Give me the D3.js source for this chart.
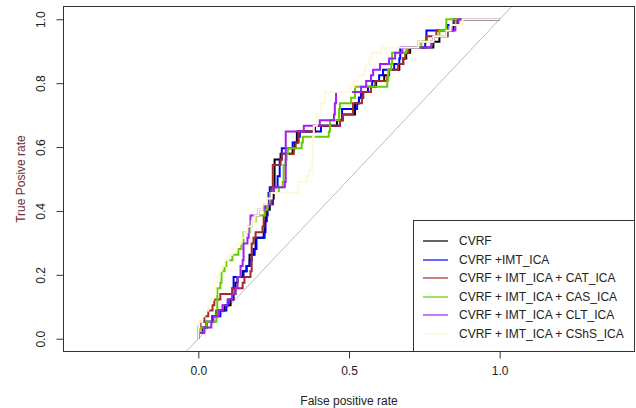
<!DOCTYPE html>
<html>
<head>
<meta charset="utf-8">
<script src="https://cdn.jsdelivr.net/npm/d3@7"></script>
<style>
  html, body { margin: 0; padding: 0; background: #fff; }
  svg { display: block; font-family: "Liberation Sans", Arial, sans-serif; }
</style>
</head>
<body>
<svg id="chart" width="636" height="408"></svg>
<script>
// ROC curves: [false positive rate, true positive rate] at each rise of the staircase
const rocCVRF = [[0,0],[0.000,0.018],[0.013,0.035],[0.027,0.053],[0.047,0.070],[0.060,0.088],[0.087,0.105],[0.107,0.123],[0.117,0.140],[0.123,0.175],[0.130,0.193],[0.147,0.211],[0.160,0.228],[0.170,0.263],[0.183,0.281],[0.190,0.316],[0.217,0.333],[0.220,0.368],[0.227,0.404],[0.237,0.421],[0.247,0.439],[0.250,0.474],[0.253,0.561],[0.273,0.579],[0.313,0.596],[0.320,0.614],[0.327,0.649],[0.387,0.667],[0.460,0.684],[0.480,0.702],[0.520,0.737],[0.533,0.754],[0.547,0.772],[0.573,0.789],[0.590,0.807],[0.617,0.825],[0.633,0.842],[0.667,0.860],[0.680,0.877],[0.690,0.895],[0.703,0.912],[0.780,0.930],[0.800,0.947],[0.827,0.965],[0.847,0.982],[0.860,1.000],[1,1]];

const rocIMT = [[0,0],[0.000,0.035],[0.027,0.053],[0.047,0.070],[0.073,0.088],[0.093,0.105],[0.100,0.123],[0.113,0.158],[0.117,0.193],[0.150,0.211],[0.160,0.228],[0.170,0.246],[0.177,0.263],[0.187,0.281],[0.193,0.316],[0.220,0.333],[0.223,0.386],[0.230,0.421],[0.233,0.456],[0.237,0.474],[0.263,0.509],[0.270,0.561],[0.277,0.596],[0.313,0.614],[0.330,0.632],[0.337,0.649],[0.407,0.667],[0.470,0.684],[0.477,0.719],[0.527,0.737],[0.533,0.754],[0.540,0.772],[0.563,0.789],[0.577,0.807],[0.600,0.825],[0.613,0.842],[0.650,0.860],[0.667,0.877],[0.670,0.912],[0.753,0.930],[0.757,0.965],[0.827,0.982],[0.847,1.000],[1,1]];

const rocCAT = [[0,0],[0.000,0.035],[0.007,0.053],[0.020,0.070],[0.033,0.088],[0.047,0.105],[0.053,0.123],[0.073,0.140],[0.113,0.158],[0.147,0.175],[0.153,0.193],[0.173,0.211],[0.177,0.298],[0.183,0.316],[0.190,0.333],[0.213,0.351],[0.217,0.386],[0.223,0.421],[0.237,0.439],[0.243,0.474],[0.247,0.544],[0.273,0.561],[0.277,0.579],[0.317,0.596],[0.323,0.614],[0.333,0.649],[0.383,0.667],[0.470,0.684],[0.480,0.702],[0.513,0.737],[0.543,0.754],[0.547,0.772],[0.573,0.789],[0.587,0.807],[0.627,0.825],[0.633,0.842],[0.663,0.860],[0.680,0.877],[0.687,0.895],[0.697,0.912],[0.730,0.930],[0.757,0.947],[0.790,0.965],[0.837,0.982],[0.850,1.000],[1,1]];

const rocCAS = [[0,0],[0.000,0.018],[0.010,0.035],[0.027,0.053],[0.060,0.070],[0.063,0.158],[0.073,0.175],[0.077,0.211],[0.087,0.228],[0.093,0.246],[0.113,0.263],[0.133,0.281],[0.143,0.298],[0.150,0.333],[0.170,0.351],[0.177,0.368],[0.190,0.386],[0.220,0.404],[0.230,0.421],[0.237,0.456],[0.267,0.474],[0.280,0.491],[0.283,0.544],[0.290,0.561],[0.293,0.579],[0.297,0.596],[0.343,0.614],[0.347,0.632],[0.433,0.649],[0.437,0.684],[0.467,0.719],[0.470,0.737],[0.507,0.754],[0.520,0.789],[0.627,0.807],[0.630,0.842],[0.640,0.860],[0.643,0.895],[0.690,0.912],[0.740,0.930],[0.780,0.947],[0.800,0.965],[0.823,1.000],[1,1]];

const rocCLT = [[0,0],[0.000,0.018],[0.020,0.035],[0.043,0.053],[0.050,0.070],[0.067,0.088],[0.080,0.105],[0.097,0.123],[0.113,0.140],[0.123,0.158],[0.130,0.193],[0.140,0.228],[0.147,0.246],[0.150,0.298],[0.163,0.316],[0.167,0.351],[0.173,0.386],[0.200,0.404],[0.217,0.421],[0.243,0.456],[0.250,0.474],[0.287,0.491],[0.290,0.649],[0.350,0.667],[0.403,0.684],[0.450,0.702],[0.453,0.737],[0.457,0.772],[0.540,0.789],[0.557,0.807],[0.573,0.825],[0.580,0.842],[0.603,0.860],[0.633,0.877],[0.653,0.895],[0.677,0.912],[0.773,0.930],[0.780,0.947],[0.823,0.965],[0.853,0.982],[0.863,1.000],[1,1]];

const rocCShS = [[0,0],[0.000,0.035],[0.003,0.053],[0.013,0.070],[0.020,0.088],[0.033,0.105],[0.040,0.123],[0.050,0.140],[0.057,0.175],[0.063,0.193],[0.070,0.211],[0.077,0.228],[0.087,0.246],[0.100,0.263],[0.113,0.281],[0.127,0.298],[0.143,0.316],[0.153,0.333],[0.163,0.351],[0.177,0.368],[0.187,0.386],[0.200,0.404],[0.213,0.421],[0.227,0.439],[0.243,0.456],[0.330,0.474],[0.333,0.491],[0.360,0.509],[0.367,0.526],[0.377,0.544],[0.380,0.632],[0.383,0.667],[0.393,0.702],[0.407,0.737],[0.420,0.772],[0.507,0.789],[0.517,0.807],[0.530,0.825],[0.550,0.842],[0.557,0.860],[0.567,0.877],[0.577,0.895],[0.607,0.912],[0.730,0.930],[0.780,0.947],[0.823,0.965],[0.837,0.982],[0.877,1.000],[1,1]];

const seriesNames = ["CVRF", "CVRF +IMT_ICA", "CVRF + IMT_ICA + CAT_ICA", "CVRF + IMT_ICA + CAS_ICA", "CVRF + IMT_ICA + CLT_ICA", "CVRF + IMT_ICA + CShS_ICA"];
const seriesData = [rocCVRF, rocIMT, rocCAT, rocCAS, rocCLT, rocCShS];
const seriesColors = ["#000000", "#0000ff", "#a52a2a", "#66cd00", "#a020f0", "#fff8dc"];

const xTicks = [0, 0.5, 1];
const yTicks = [0, 0.2, 0.4, 0.6, 0.8, 1];

const svg = d3.select("#chart");
const plot = { left: 63.5, right: 634.5, top: 6.5, bottom: 351.5 };

const x = d3.scaleLinear().domain([-0.4475, 1.4475]).range([plot.left, plot.right]);
const y = d3.scaleLinear().domain([-0.04, 1.04]).range([plot.bottom, plot.top]);

svg.append("defs").append("clipPath").attr("id", "plotClip")
  .append("rect")
  .attr("x", plot.left).attr("y", plot.top)
  .attr("width", plot.right - plot.left).attr("height", plot.bottom - plot.top);

const inner = svg.append("g").attr("clip-path", "url(#plotClip)");

// chance diagonal
inner.append("line")
  .attr("x1", x(-0.2)).attr("y1", y(-0.2))
  .attr("x2", x(1.2)).attr("y2", y(1.2))
  .attr("stroke", "#bdbdbd").attr("stroke-width", 1);

const line = d3.line()
  .x(d => x(d[0]))
  .y(d => y(d[1]))
  .curve(d3.curveStepAfter);

seriesData.forEach((data, i) => {
  inner.append("path")
    .datum(data)
    .attr("d", line)
    .attr("fill", "none")
    .attr("stroke", seriesColors[i])
    .attr("stroke-width", 2);
});

// axes
const xAxis = d3.axisBottom(x).tickValues(xTicks).tickFormat(d3.format(".1f")).tickSize(7).tickPadding(8);
const gx = svg.append("g").attr("transform", `translate(0,${plot.bottom})`).call(xAxis);
gx.select(".domain").attr("d", `M${x(0)},0H${x(1)}`).attr("stroke", "#333");
gx.selectAll(".tick line").attr("stroke", "#333");
gx.selectAll(".tick text").attr("font-size", 12).attr("fill", "#222").attr("font-family", "Liberation Sans, Arial, sans-serif");

const yAxis = d3.axisLeft(y).tickValues(yTicks).tickFormat(d3.format(".1f")).tickSize(7);
const gy = svg.append("g").attr("transform", `translate(${plot.left},0)`).call(yAxis);
gy.select(".domain").attr("d", `M0,${y(0)}V${y(1)}`).attr("stroke", "#333");
gy.selectAll(".tick line").attr("stroke", "#333");
gy.selectAll(".tick text")
  .attr("font-size", 12).attr("fill", "#222").attr("font-family", "Liberation Sans, Arial, sans-serif")
  .attr("x", null).attr("dy", null)
  .attr("text-anchor", "middle")
  .attr("transform", "translate(-18.5,0) rotate(-90)");

// plot frame
svg.append("rect")
  .attr("x", plot.left).attr("y", plot.top)
  .attr("width", plot.right - plot.left).attr("height", plot.bottom - plot.top)
  .attr("fill", "none").attr("stroke", "#333").attr("stroke-width", 1);

// axis titles
svg.append("text")
  .attr("x", x(0.5)).attr("y", 405)
  .attr("text-anchor", "middle")
  .attr("font-size", 12).attr("fill", "#222")
  .text("False positive rate");

svg.append("text")
  .attr("transform", `translate(24.5,${(plot.top + plot.bottom) / 2}) rotate(-90)`)
  .attr("text-anchor", "middle")
  .attr("font-size", 12).attr("fill", "#6b2f2f")
  .text("True Posive rate");

// legend
const legend = svg.append("g");
const lg = { left: 413.5, top: 220.5, right: plot.right, bottom: plot.bottom };
legend.append("rect")
  .attr("x", lg.left).attr("y", lg.top)
  .attr("width", lg.right - lg.left).attr("height", lg.bottom - lg.top)
  .attr("fill", "#fff").attr("stroke", "#333").attr("stroke-width", 1);

const rowY = d3.scalePoint().domain(d3.range(seriesNames.length)).range([241, 334]);
seriesNames.forEach((name, i) => {
  const yy = Math.round(rowY(i));
  legend.append("line")
    .attr("x1", 423).attr("x2", 448)
    .attr("y1", yy).attr("y2", yy)
    .attr("stroke", seriesColors[i]).attr("stroke-width", 1.2);
  legend.append("text")
    .attr("x", 459).attr("y", yy)
    .attr("dy", "0.35em")
    .attr("font-size", 12).attr("fill", "#222")
    .text(name);
});
</script>
</body>
</html>
